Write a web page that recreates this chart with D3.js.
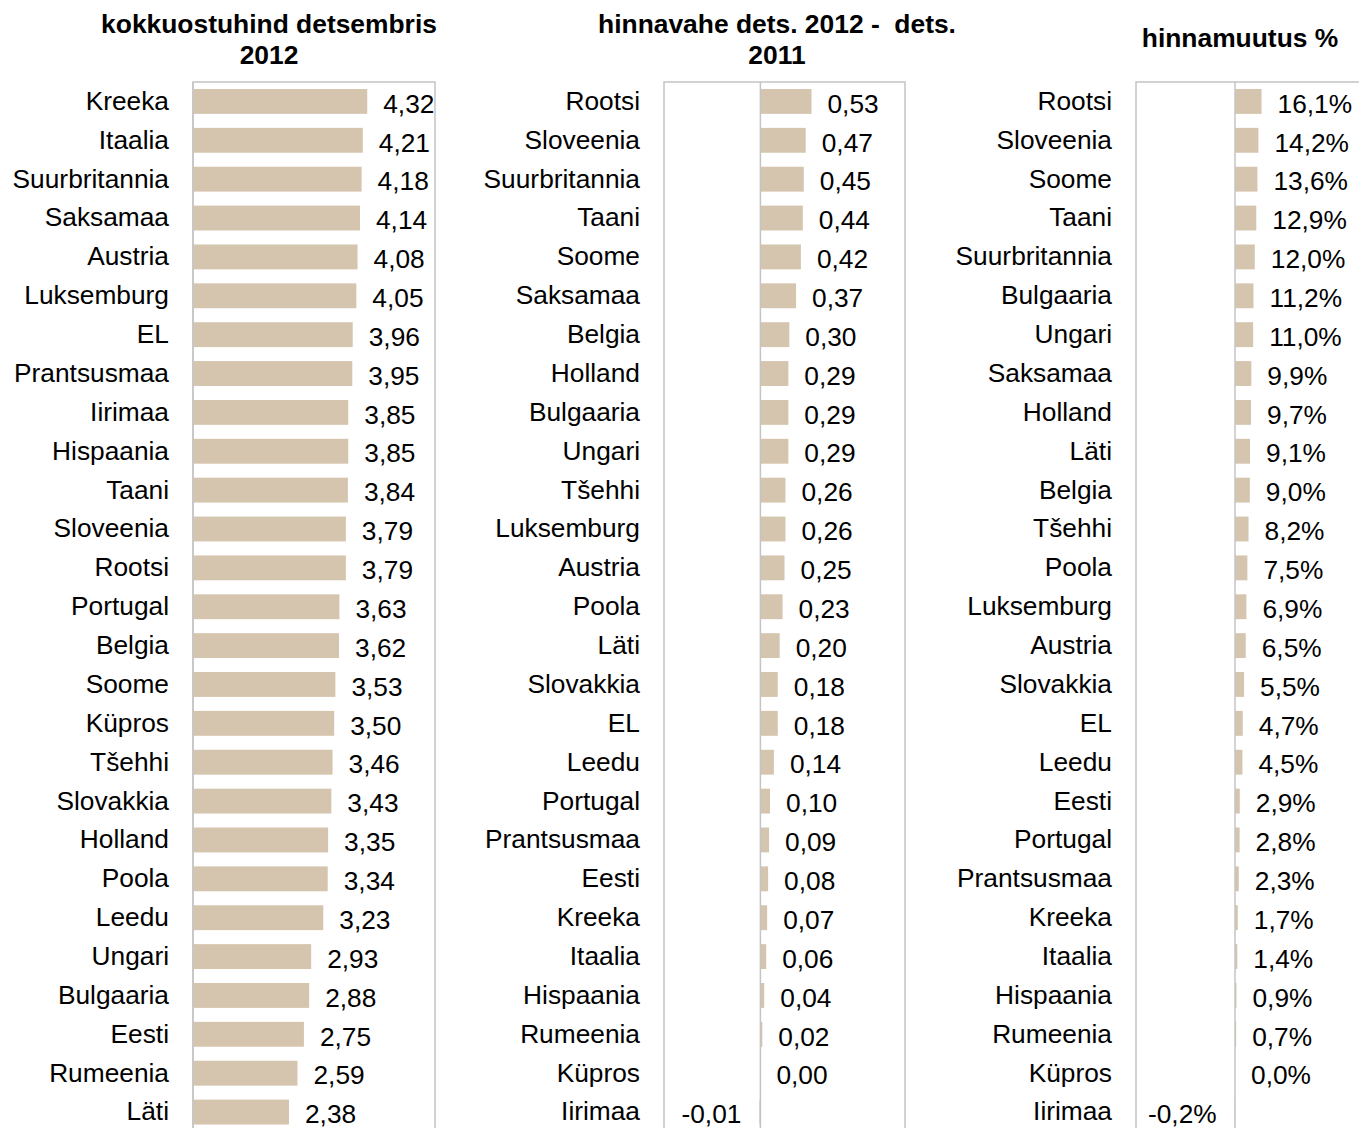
<!DOCTYPE html>
<html>
<head>
<meta charset="utf-8">
<script src="https://cdn.jsdelivr.net/npm/d3@7"></script>
<style>
  body { margin: 0; background: #fff; }
  svg { display: block; font-family: Arial, 'Liberation Sans', sans-serif; }
  .axis .domain { display: none; }
  .axis text { font-size: 26.3px; fill: #000; }
  .title { font-size: 26.4px; font-weight: bold; fill: #000; white-space: pre; }
  .value { font-size: 26.3px; fill: #000; }
</style>
</head>
<body>
<script>
// price Dec 2012
const priceCountries = ['Kreeka', 'Itaalia', 'Suurbritannia', 'Saksamaa', 'Austria', 'Luksemburg', 'EL',
  'Prantsusmaa', 'Iirimaa', 'Hispaania', 'Taani', 'Sloveenia', 'Rootsi', 'Portugal', 'Belgia', 'Soome',
  'Küpros', 'Tšehhi', 'Slovakkia', 'Holland', 'Poola', 'Leedu', 'Ungari', 'Bulgaaria', 'Eesti', 'Rumeenia', 'Läti']
const priceValues = [4.32, 4.21, 4.18, 4.14, 4.08, 4.05, 3.96, 3.95, 3.85, 3.85, 3.84, 3.79, 3.79, 3.63,
  3.62, 3.53, 3.50, 3.46, 3.43, 3.35, 3.34, 3.23, 2.93, 2.88, 2.75, 2.59, 2.38]

// price difference Dec 2012 - Dec 2011
const diffCountries = ['Rootsi', 'Sloveenia', 'Suurbritannia', 'Taani', 'Soome', 'Saksamaa', 'Belgia',
  'Holland', 'Bulgaaria', 'Ungari', 'Tšehhi', 'Luksemburg', 'Austria', 'Poola', 'Läti', 'Slovakkia', 'EL',
  'Leedu', 'Portugal', 'Prantsusmaa', 'Eesti', 'Kreeka', 'Itaalia', 'Hispaania', 'Rumeenia', 'Küpros', 'Iirimaa']
const diffValues = [0.53, 0.47, 0.45, 0.44, 0.42, 0.37, 0.30, 0.29, 0.29, 0.29, 0.26, 0.26, 0.25, 0.23,
  0.20, 0.18, 0.18, 0.14, 0.10, 0.09, 0.08, 0.07, 0.06, 0.04, 0.02, 0.00, -0.01]

// price change %
const changeCountries = ['Rootsi', 'Sloveenia', 'Soome', 'Taani', 'Suurbritannia', 'Bulgaaria', 'Ungari',
  'Saksamaa', 'Holland', 'Läti', 'Belgia', 'Tšehhi', 'Poola', 'Luksemburg', 'Austria', 'Slovakkia', 'EL',
  'Leedu', 'Eesti', 'Portugal', 'Prantsusmaa', 'Kreeka', 'Itaalia', 'Hispaania', 'Rumeenia', 'Küpros', 'Iirimaa']
const changeValues = [16.1, 14.2, 13.6, 12.9, 12.0, 11.2, 11.0, 9.9, 9.7, 9.1, 9.0, 8.2, 7.5, 6.9, 6.5,
  5.5, 4.7, 4.5, 2.9, 2.8, 2.3, 1.7, 1.4, 0.9, 0.7, 0.0, -0.2]

const titles = [
  ['kokkuostuhind detsembris', '2012'],
  ['hinnavahe dets. 2012 -  dets.', '2011'],
  ['hinnamuutus %'],
]

const width = 1359
const height = 1128
const barColor = '#d6c5ae'
const frameColor = '#c4c4c4'

const et = d3.formatLocale({ decimal: ',', thousands: ' ', grouping: [3], currency: ['', '€'], minus: '-' })

const panels = [
  { cats: priceCountries, vals: priceValues, domain: [0, 6], range: [193, 435],
    fmt: et.format('.2f'), title: titles[0], titleX: 269, titleY: [24, 55] },
  { cats: diffCountries, vals: diffValues, domain: [-1, 1.5], range: [664, 905],
    fmt: et.format('.2f'), title: titles[1], titleX: 777, titleY: [24, 55] },
  { cats: changeCountries, vals: changeValues, domain: [-60, 80], range: [1136, 1367],
    fmt: (v) => et.format('.1f')(v) + '%', title: titles[2], titleX: 1240, titleY: [38] },
]

const svg = d3.select('body').append('svg')
  .attr('width', width)
  .attr('height', height)

const plotTop = 82
const rowStep = 38.87

panels.forEach((p) => {
  const g = svg.append('g')

  const x = d3.scaleLinear().domain(p.domain).range(p.range)
  const y = d3.scaleBand()
    .domain(p.cats)
    .range([plotTop, plotTop + p.cats.length * rowStep])
    .paddingInner(0.36)
    .paddingOuter(0.18)

  // frame
  g.append('rect')
    .attr('x', p.range[0])
    .attr('y', plotTop)
    .attr('width', p.range[1] - p.range[0])
    .attr('height', height)
    .attr('fill', 'none')
    .attr('stroke', frameColor)
    .attr('stroke-width', 1.5)

  g.selectAll('rect.bar')
    .data(p.vals)
    .enter()
    .append('rect')
    .attr('class', 'bar')
    .attr('x', (d) => x(Math.min(0, d)))
    .attr('y', (d, i) => y(p.cats[i]))
    .attr('width', (d) => Math.abs(x(d) - x(0)))
    .attr('height', y.bandwidth())
    .attr('fill', barColor)

  // zero line
  g.append('line')
    .attr('x1', x(0))
    .attr('x2', x(0))
    .attr('y1', plotTop)
    .attr('y2', height)
    .attr('stroke', frameColor)
    .attr('stroke-width', 1.5)

  // category labels
  g.append('g')
    .attr('class', 'axis')
    .attr('transform', `translate(${p.range[0]},0)`)
    .call(d3.axisLeft(y).tickSize(0).tickPadding(24))
    .selectAll('text')
    .attr('dy', '0.32em')

  // value labels
  g.selectAll('text.value')
    .data(p.vals)
    .enter()
    .append('text')
    .attr('class', 'value')
    .attr('x', (d) => (d < 0 ? x(d) - 18 : x(d) + 16))
    .attr('y', (d, i) => y(p.cats[i]) + y.bandwidth() / 2 + 2)
    .attr('dy', '0.35em')
    .attr('text-anchor', (d) => (d < 0 ? 'end' : 'start'))
    .text((d) => p.fmt(d))

  p.title.forEach((line, i) => {
    svg.append('text')
      .attr('class', 'title')
      .attr('x', p.titleX)
      .attr('y', p.titleY[i])
      .attr('dy', '0.35em')
      .attr('text-anchor', 'middle')
      .attr('xml:space', 'preserve')
      .text(line)
  })
})
</script>
</body>
</html>
